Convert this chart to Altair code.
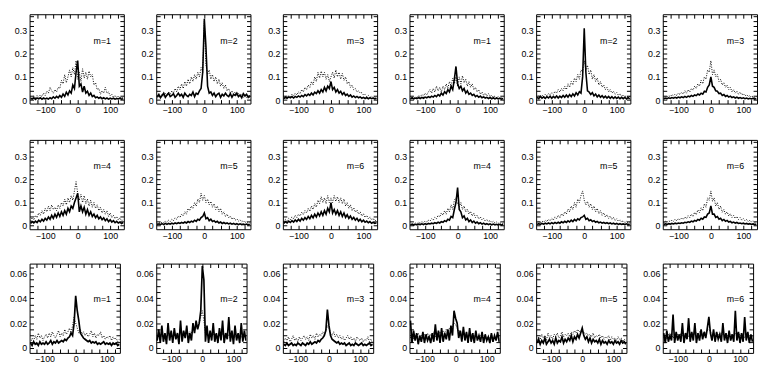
import altair as alt
import pandas as pd

# x positions (bin centres) shared by every curve
x_grid = list(range(-145, 145, 5))

# ---------------- row 1 ----------------
p1_solid = [0.008,0.004,0.01,0.003,0.009,0.005,0.01,0.004,0.009,0.005,
            0.008,0.004,0.01,0.006,0.014,0.008,0.016,0.01,0.02,0.012,
            0.026,0.016,0.034,0.022,0.04,0.03,0.065,0.05,0.12,0.17,
            0.06,0.07,0.035,0.06,0.03,0.038,0.02,0.03,0.015,0.02,
            0.01,0.014,0.008,0.012,0.006,0.01,0.005,0.009,0.004,0.008,
            0.005,0.008,0.004,0.007,0.005,0.008,0.004,0.006]
p1_dotted = [0.012,0.006,0.018,0.01,0.02,0.012,0.022,0.015,0.03,0.02,
             0.038,0.03,0.055,0.04,0.03,0.045,0.035,0.055,0.05,0.085,
             0.07,0.11,0.075,0.1,0.13,0.1,0.14,0.11,0.17,0.09,
             0.12,0.08,0.135,0.095,0.12,0.09,0.125,0.1,0.11,0.065,
             0.075,0.045,0.05,0.025,0.04,0.03,0.055,0.03,0.035,0.018,
             0.025,0.012,0.02,0.01,0.018,0.008,0.015,0.006]
p2_solid = [0.015,0.025,0.01,0.02,0.03,0.012,0.022,0.03,0.015,0.02,
            0.028,0.012,0.02,0.03,0.018,0.025,0.012,0.03,0.02,0.015,
            0.025,0.02,0.035,0.015,0.03,0.025,0.04,0.05,0.12,0.35,
            0.23,0.06,0.03,0.035,0.02,0.03,0.015,0.025,0.03,0.012,
            0.025,0.018,0.03,0.02,0.015,0.028,0.012,0.025,0.02,0.03,
            0.015,0.022,0.01,0.028,0.018,0.025,0.012,0.02]
p2_dotted = [0.008,0.018,0.012,0.025,0.015,0.03,0.02,0.035,0.025,0.04,
             0.03,0.05,0.035,0.06,0.045,0.07,0.05,0.08,0.06,0.09,
             0.07,0.1,0.08,0.11,0.09,0.12,0.1,0.14,0.12,0.34,
             0.15,0.11,0.13,0.09,0.11,0.08,0.1,0.07,0.09,0.06,
             0.075,0.05,0.065,0.04,0.05,0.03,0.04,0.025,0.035,0.02,
             0.03,0.015,0.025,0.012,0.02,0.01,0.018,0.008]
p3_solid = [0.006,0.012,0.008,0.014,0.01,0.015,0.009,0.016,0.012,0.018,
            0.013,0.02,0.015,0.024,0.018,0.026,0.02,0.03,0.022,0.034,
            0.028,0.04,0.03,0.045,0.035,0.055,0.04,0.06,0.05,0.08,
            0.045,0.055,0.035,0.045,0.03,0.038,0.024,0.032,0.02,0.026,
            0.016,0.022,0.013,0.018,0.011,0.016,0.01,0.014,0.008,0.012,
            0.007,0.011,0.006,0.01,0.006,0.009,0.005,0.008]
p3_dotted = [0.008,0.015,0.01,0.02,0.012,0.025,0.018,0.03,0.022,0.035,
             0.028,0.045,0.035,0.055,0.045,0.065,0.055,0.08,0.065,0.1,
             0.08,0.12,0.095,0.125,0.1,0.12,0.09,0.11,0.08,0.1,
             0.12,0.095,0.13,0.1,0.12,0.09,0.115,0.085,0.1,0.07,
             0.08,0.055,0.065,0.045,0.05,0.035,0.04,0.03,0.032,0.022,
             0.025,0.015,0.02,0.012,0.016,0.01,0.014,0.008]
p4_solid = [0.006,0.01,0.005,0.009,0.006,0.011,0.007,0.012,0.008,0.013,
            0.01,0.015,0.011,0.017,0.013,0.02,0.015,0.024,0.018,0.03,
            0.022,0.036,0.028,0.045,0.035,0.06,0.045,0.09,0.145,0.07,
            0.05,0.06,0.04,0.05,0.03,0.04,0.025,0.03,0.02,0.025,
            0.015,0.02,0.012,0.017,0.01,0.014,0.009,0.012,0.007,0.011,
            0.006,0.01,0.005,0.009,0.005,0.008,0.004,0.007]
p4_dotted = [0.006,0.012,0.008,0.015,0.01,0.02,0.014,0.024,0.018,0.03,
             0.022,0.035,0.045,0.03,0.05,0.035,0.06,0.04,0.055,0.035,
             0.06,0.045,0.07,0.05,0.08,0.06,0.095,0.07,0.1,0.06,
             0.1,0.07,0.105,0.075,0.09,0.06,0.08,0.055,0.07,0.045,
             0.055,0.035,0.045,0.025,0.035,0.02,0.03,0.018,0.028,0.015,
             0.022,0.012,0.018,0.01,0.015,0.008,0.012,0.006]
p5_solid = [0.012,0.006,0.016,0.008,0.014,0.007,0.015,0.009,0.017,0.008,
            0.016,0.01,0.018,0.009,0.017,0.011,0.02,0.012,0.022,0.013,
            0.024,0.015,0.027,0.018,0.032,0.022,0.036,0.03,0.1,0.31,
            0.12,0.04,0.035,0.024,0.032,0.018,0.026,0.014,0.022,0.012,
            0.019,0.01,0.017,0.009,0.016,0.008,0.015,0.007,0.014,0.007,
            0.013,0.006,0.012,0.006,0.012,0.005,0.011,0.005]
p5_dotted = [0.01,0.018,0.012,0.022,0.014,0.025,0.018,0.028,0.022,0.032,
             0.025,0.038,0.03,0.045,0.035,0.05,0.04,0.06,0.045,0.07,
             0.055,0.08,0.065,0.095,0.08,0.11,0.09,0.13,0.12,0.17,
             0.13,0.15,0.11,0.13,0.09,0.11,0.08,0.095,0.065,0.08,
             0.055,0.065,0.045,0.055,0.035,0.045,0.03,0.038,0.025,0.032,
             0.02,0.028,0.016,0.022,0.014,0.02,0.012,0.016]
p6_solid = [0.005,0.009,0.006,0.01,0.007,0.011,0.008,0.012,0.009,0.013,
            0.01,0.014,0.011,0.016,0.012,0.017,0.014,0.02,0.016,0.022,
            0.019,0.026,0.022,0.03,0.026,0.038,0.035,0.055,0.065,0.1,
            0.06,0.055,0.04,0.038,0.028,0.03,0.02,0.024,0.016,0.02,
            0.013,0.017,0.011,0.014,0.009,0.013,0.008,0.011,0.007,0.01,
            0.006,0.009,0.005,0.008,0.005,0.008,0.004,0.007]
p6_dotted = [0.01,0.016,0.012,0.02,0.014,0.024,0.018,0.026,0.02,0.03,
             0.024,0.034,0.026,0.04,0.03,0.045,0.035,0.05,0.042,0.06,
             0.05,0.07,0.06,0.085,0.07,0.1,0.09,0.13,0.12,0.17,
             0.11,0.13,0.1,0.11,0.08,0.09,0.065,0.075,0.055,0.065,
             0.045,0.055,0.035,0.045,0.03,0.038,0.025,0.034,0.022,0.028,
             0.018,0.024,0.015,0.02,0.012,0.018,0.01,0.014]

# ---------------- row 2 ----------------
p7_solid = [0.01,0.018,0.012,0.02,0.014,0.024,0.017,0.028,0.02,0.032,
            0.024,0.038,0.028,0.045,0.032,0.05,0.036,0.055,0.04,0.06,
            0.045,0.065,0.05,0.075,0.06,0.085,0.075,0.1,0.12,0.14,
            0.06,0.085,0.06,0.08,0.05,0.07,0.045,0.06,0.04,0.05,
            0.035,0.045,0.03,0.038,0.026,0.034,0.022,0.03,0.018,0.026,
            0.016,0.022,0.013,0.019,0.012,0.016,0.01,0.014]
p7_dotted = [0.02,0.035,0.025,0.045,0.035,0.055,0.045,0.065,0.05,0.075,
             0.06,0.085,0.065,0.09,0.07,0.08,0.065,0.09,0.075,0.1,
             0.085,0.115,0.09,0.12,0.1,0.13,0.11,0.15,0.19,0.14,
             0.11,0.135,0.1,0.13,0.095,0.115,0.085,0.11,0.08,0.1,
             0.075,0.09,0.065,0.08,0.055,0.07,0.05,0.065,0.04,0.055,
             0.035,0.045,0.03,0.04,0.025,0.035,0.02,0.028]
p8_solid = [0.004,0.008,0.005,0.009,0.005,0.01,0.006,0.01,0.007,0.011,
            0.008,0.012,0.009,0.013,0.01,0.014,0.011,0.016,0.012,0.018,
            0.014,0.02,0.016,0.024,0.019,0.028,0.024,0.035,0.04,0.055,
            0.03,0.035,0.022,0.028,0.018,0.022,0.015,0.019,0.012,0.016,
            0.01,0.014,0.009,0.012,0.008,0.011,0.007,0.01,0.006,0.009,
            0.005,0.008,0.005,0.007,0.004,0.007,0.004,0.006]
p8_dotted = [0.008,0.014,0.01,0.016,0.012,0.02,0.015,0.024,0.018,0.028,
             0.022,0.034,0.028,0.042,0.035,0.05,0.042,0.06,0.05,0.075,
             0.065,0.085,0.075,0.1,0.085,0.115,0.1,0.14,0.11,0.13,
             0.1,0.115,0.09,0.105,0.08,0.095,0.07,0.085,0.06,0.075,
             0.05,0.06,0.04,0.05,0.034,0.042,0.028,0.036,0.024,0.03,
             0.02,0.026,0.017,0.022,0.014,0.018,0.012,0.015]
p9_solid = [0.01,0.018,0.012,0.02,0.014,0.022,0.016,0.025,0.018,0.028,
            0.02,0.032,0.024,0.035,0.027,0.04,0.03,0.045,0.034,0.05,
            0.038,0.055,0.042,0.06,0.045,0.065,0.05,0.075,0.06,0.1,
            0.055,0.07,0.05,0.065,0.045,0.06,0.04,0.055,0.036,0.048,
            0.032,0.042,0.028,0.036,0.024,0.032,0.02,0.028,0.017,0.024,
            0.015,0.02,0.013,0.018,0.011,0.015,0.01,0.013]
p9_dotted = [0.018,0.028,0.022,0.032,0.026,0.038,0.03,0.045,0.035,0.05,
             0.042,0.058,0.048,0.065,0.055,0.075,0.062,0.085,0.07,0.095,
             0.08,0.11,0.095,0.125,0.1,0.12,0.095,0.13,0.1,0.12,
             0.1,0.13,0.105,0.125,0.1,0.12,0.095,0.115,0.085,0.1,
             0.075,0.09,0.065,0.078,0.058,0.068,0.05,0.06,0.042,0.052,
             0.036,0.045,0.03,0.038,0.025,0.032,0.02,0.026]
p10_solid = [0.004,0.006,0.003,0.006,0.004,0.007,0.005,0.008,0.005,0.009,
             0.006,0.01,0.008,0.011,0.009,0.013,0.01,0.015,0.012,0.018,
             0.015,0.022,0.018,0.028,0.024,0.04,0.035,0.07,0.1,0.165,
             0.07,0.06,0.035,0.042,0.025,0.032,0.018,0.025,0.014,0.02,
             0.011,0.016,0.009,0.013,0.007,0.011,0.006,0.009,0.005,0.008,
             0.004,0.007,0.004,0.006,0.003,0.006,0.003,0.005]
p10_dotted = [0.005,0.01,0.007,0.012,0.009,0.015,0.011,0.018,0.013,0.02,
              0.016,0.024,0.02,0.03,0.024,0.036,0.03,0.045,0.038,0.055,
              0.045,0.065,0.05,0.075,0.06,0.09,0.07,0.11,0.12,0.095,
              0.08,0.1,0.07,0.085,0.06,0.072,0.05,0.062,0.042,0.055,
              0.035,0.045,0.03,0.038,0.025,0.032,0.02,0.027,0.017,0.023,
              0.014,0.019,0.012,0.016,0.01,0.014,0.008,0.012]
p11_solid = [0.005,0.009,0.006,0.01,0.007,0.011,0.008,0.012,0.008,0.013,
             0.009,0.014,0.01,0.015,0.011,0.017,0.013,0.019,0.014,0.021,
             0.016,0.024,0.018,0.027,0.021,0.03,0.025,0.035,0.038,0.045,
             0.028,0.032,0.022,0.026,0.018,0.022,0.015,0.019,0.013,0.016,
             0.011,0.014,0.01,0.013,0.009,0.012,0.008,0.011,0.007,0.01,
             0.006,0.009,0.006,0.008,0.005,0.008,0.005,0.007]
p11_dotted = [0.01,0.018,0.012,0.02,0.015,0.024,0.018,0.028,0.021,0.032,
              0.025,0.038,0.03,0.045,0.035,0.052,0.042,0.06,0.05,0.072,
              0.06,0.085,0.07,0.1,0.08,0.115,0.1,0.13,0.15,0.11,
              0.09,0.105,0.08,0.095,0.07,0.085,0.06,0.075,0.052,0.065,
              0.045,0.056,0.038,0.048,0.032,0.042,0.027,0.036,0.023,0.03,
              0.019,0.026,0.016,0.022,0.013,0.019,0.011,0.016]
p12_solid = [0.005,0.008,0.006,0.009,0.007,0.01,0.008,0.011,0.009,0.012,
             0.01,0.013,0.011,0.015,0.013,0.017,0.015,0.02,0.017,0.023,
             0.02,0.027,0.024,0.032,0.028,0.038,0.036,0.05,0.055,0.085,
             0.05,0.05,0.036,0.04,0.028,0.032,0.022,0.027,0.019,0.023,
             0.016,0.019,0.013,0.016,0.011,0.014,0.01,0.012,0.009,0.011,
             0.008,0.01,0.007,0.009,0.006,0.008,0.005,0.007]
p12_dotted = [0.013,0.02,0.015,0.022,0.017,0.025,0.019,0.028,0.021,0.031,
              0.024,0.034,0.027,0.038,0.03,0.043,0.035,0.05,0.04,0.058,
              0.048,0.068,0.056,0.078,0.065,0.095,0.08,0.12,0.11,0.15,
              0.105,0.12,0.085,0.1,0.07,0.085,0.058,0.07,0.05,0.06,
              0.042,0.052,0.036,0.045,0.031,0.04,0.027,0.035,0.024,0.031,
              0.021,0.027,0.018,0.024,0.016,0.021,0.014,0.018]

# ---------------- row 3 ----------------
p13_solid = [0.004,0.002,0.005,0.003,0.004,0.002,0.005,0.003,0.004,0.003,
             0.005,0.003,0.004,0.006,0.003,0.005,0.004,0.006,0.004,0.005,
             0.006,0.005,0.007,0.006,0.008,0.009,0.012,0.01,0.02,0.042,
             0.03,0.022,0.012,0.01,0.008,0.007,0.006,0.005,0.006,0.004,
             0.005,0.004,0.005,0.003,0.004,0.003,0.004,0.005,0.003,0.004,
             0.003,0.004,0.002,0.004,0.003,0.004,0.002,0.003]
p13_dotted = [0.004,0.008,0.006,0.01,0.007,0.012,0.008,0.01,0.006,0.009,
              0.011,0.008,0.012,0.009,0.013,0.01,0.008,0.011,0.014,0.009,
              0.012,0.01,0.015,0.011,0.013,0.016,0.012,0.018,0.025,0.02,
              0.016,0.012,0.015,0.011,0.013,0.01,0.012,0.009,0.011,0.014,
              0.009,0.012,0.008,0.011,0.01,0.013,0.008,0.01,0.007,0.009,
              0.008,0.01,0.006,0.009,0.007,0.008,0.005,0.007]
p14_solid = [0.006,0.015,0.004,0.018,0.005,0.012,0.003,0.02,0.006,0.014,
             0.004,0.016,0.007,0.012,0.003,0.022,0.005,0.014,0.008,0.018,
             0.004,0.012,0.006,0.02,0.012,0.022,0.015,0.02,0.03,0.066,
             0.055,0.005,0.018,0.004,0.014,0.006,0.02,0.005,0.012,0.004,
             0.016,0.006,0.022,0.004,0.012,0.007,0.025,0.005,0.014,0.003,
             0.018,0.006,0.012,0.004,0.02,0.005,0.014,0.006]
p14_dotted = [0.008,0.01,0.007,0.011,0.009,0.01,0.008,0.012,0.009,0.011,
              0.008,0.012,0.01,0.009,0.011,0.013,0.009,0.012,0.01,0.014,
              0.011,0.013,0.012,0.015,0.014,0.016,0.018,0.02,0.025,0.03,
              0.022,0.012,0.013,0.01,0.012,0.009,0.011,0.01,0.012,0.008,
              0.011,0.009,0.012,0.008,0.01,0.009,0.011,0.008,0.01,0.007,
              0.01,0.008,0.011,0.007,0.009,0.008,0.01,0.007]
p15_solid = [0.003,0.002,0.004,0.002,0.003,0.004,0.002,0.003,0.002,0.004,
             0.003,0.002,0.004,0.003,0.002,0.004,0.003,0.005,0.003,0.004,
             0.005,0.004,0.006,0.005,0.007,0.008,0.01,0.014,0.031,0.018,
             0.01,0.007,0.006,0.005,0.004,0.005,0.003,0.004,0.003,0.004,
             0.002,0.003,0.004,0.002,0.003,0.002,0.004,0.003,0.002,0.003,
             0.004,0.002,0.003,0.002,0.003,0.004,0.002,0.003]
p15_dotted = [0.005,0.008,0.006,0.009,0.005,0.007,0.01,0.006,0.008,0.005,
              0.009,0.006,0.008,0.01,0.007,0.009,0.006,0.011,0.008,0.01,
              0.007,0.012,0.009,0.011,0.01,0.013,0.011,0.014,0.018,0.016,
              0.012,0.01,0.013,0.009,0.011,0.008,0.01,0.007,0.009,0.006,
              0.008,0.01,0.007,0.009,0.006,0.008,0.005,0.009,0.007,0.006,
              0.008,0.005,0.007,0.006,0.009,0.005,0.007,0.004]
p16_solid = [0.022,0.004,0.014,0.006,0.012,0.003,0.01,0.005,0.013,0.004,
             0.011,0.006,0.009,0.004,0.012,0.005,0.019,0.006,0.014,0.004,
             0.016,0.005,0.012,0.007,0.015,0.006,0.018,0.01,0.03,0.024,
             0.02,0.008,0.014,0.005,0.017,0.006,0.013,0.004,0.016,0.005,
             0.012,0.004,0.014,0.006,0.01,0.005,0.013,0.004,0.011,0.006,
             0.009,0.004,0.012,0.005,0.01,0.006,0.013,0.005]
p16_dotted = [0.008,0.011,0.007,0.01,0.009,0.012,0.008,0.01,0.007,0.011,
              0.009,0.012,0.008,0.011,0.01,0.013,0.009,0.012,0.011,0.013,
              0.01,0.014,0.012,0.015,0.013,0.016,0.014,0.018,0.02,0.019,
              0.016,0.013,0.014,0.011,0.013,0.01,0.012,0.009,0.011,0.01,
              0.012,0.009,0.011,0.008,0.01,0.009,0.012,0.008,0.01,0.007,
              0.009,0.008,0.011,0.007,0.009,0.008,0.01,0.007]
p17_solid = [0.004,0.007,0.003,0.006,0.004,0.008,0.003,0.005,0.007,0.004,
             0.006,0.003,0.008,0.004,0.006,0.005,0.009,0.004,0.007,0.005,
             0.008,0.006,0.01,0.005,0.009,0.007,0.011,0.008,0.012,0.016,
             0.01,0.007,0.009,0.005,0.008,0.004,0.007,0.005,0.006,0.004,
             0.007,0.003,0.006,0.004,0.005,0.003,0.006,0.004,0.005,0.003,
             0.006,0.004,0.005,0.003,0.006,0.004,0.005,0.003]
p17_dotted = [0.006,0.009,0.007,0.011,0.008,0.01,0.006,0.012,0.008,0.01,
              0.007,0.011,0.009,0.012,0.008,0.01,0.013,0.009,0.011,0.01,
              0.012,0.009,0.013,0.011,0.014,0.012,0.015,0.013,0.014,0.012,
              0.013,0.011,0.012,0.01,0.011,0.009,0.012,0.008,0.01,0.009,
              0.011,0.008,0.01,0.007,0.009,0.008,0.01,0.006,0.009,0.007,
              0.008,0.006,0.009,0.007,0.008,0.005,0.007,0.006]
p18_solid = [0.012,0.004,0.014,0.005,0.01,0.006,0.027,0.004,0.013,0.006,
             0.011,0.005,0.02,0.004,0.012,0.007,0.024,0.005,0.013,0.006,
             0.02,0.004,0.012,0.006,0.015,0.007,0.013,0.008,0.016,0.025,
             0.012,0.006,0.015,0.005,0.013,0.007,0.011,0.005,0.02,0.006,
             0.012,0.004,0.014,0.006,0.011,0.005,0.03,0.006,0.013,0.004,
             0.012,0.005,0.025,0.006,0.013,0.004,0.011,0.005]
p18_dotted = [0.008,0.01,0.007,0.011,0.009,0.012,0.008,0.01,0.009,0.011,
              0.008,0.012,0.01,0.009,0.011,0.012,0.009,0.011,0.01,0.012,
              0.011,0.012,0.01,0.013,0.012,0.011,0.013,0.012,0.014,0.015,
              0.013,0.011,0.012,0.01,0.012,0.011,0.01,0.012,0.011,0.009,
              0.011,0.01,0.012,0.009,0.011,0.01,0.012,0.009,0.01,0.011,
              0.009,0.01,0.008,0.011,0.009,0.01,0.008,0.009]

panel_labels = ["m=1", "m=2", "m=3", "m=1", "m=2", "m=3",
                "m=4", "m=5", "m=6", "m=4", "m=5", "m=6",
                "m=1", "m=2", "m=3", "m=4", "m=5", "m=6"]
solid_series = [p1_solid, p2_solid, p3_solid, p4_solid, p5_solid, p6_solid,
                p7_solid, p8_solid, p9_solid, p10_solid, p11_solid, p12_solid,
                p13_solid, p14_solid, p15_solid, p16_solid, p17_solid, p18_solid]
dotted_series = [p1_dotted, p2_dotted, p3_dotted, p4_dotted, p5_dotted, p6_dotted,
                 p7_dotted, p8_dotted, p9_dotted, p10_dotted, p11_dotted, p12_dotted,
                 p13_dotted, p14_dotted, p15_dotted, p16_dotted, p17_dotted, p18_dotted]

x_ticks = [-125, -100, -75, -50, -25, 0, 25, 50, 75, 100, 125]
y_ticks_big = [0, 0.02, 0.04, 0.06, 0.08, 0.1, 0.12, 0.14, 0.16, 0.18, 0.2,
               0.22, 0.24, 0.26, 0.28, 0.3, 0.32, 0.34, 0.36]
y_ticks_small = [0, 0.005, 0.01, 0.015, 0.02, 0.025, 0.03, 0.035, 0.04,
                 0.045, 0.05, 0.055, 0.06, 0.065]

rows = []
for i in range(18):
    for xv, s, d in zip(x_grid, solid_series[i], dotted_series[i]):
        rows.append({"panel": i, "series": "solid", "x": xv, "y": s})
        rows.append({"panel": i, "series": "dotted", "x": xv, "y": d})
df = pd.DataFrame(rows)

FONT = "Liberation Sans"
FS = 9
TS = 4
H = 91

xscale = alt.Scale(domain=[-148, 142], nice=False, zero=False)


def make_panel(i):
    small = i >= 12
    W = 92 if small else 96
    ext = 21 if small else 16
    yscale = alt.Scale(domain=[-0.004, 0.068] if small else [-0.015, 0.37],
                       nice=False, zero=False)
    yt = y_ticks_small if small else y_ticks_big
    if small:
        ylab = ("abs(datum.value*50 - round(datum.value*50)) < 1e-6 ? "
                "(datum.value == 0 ? '0' : format(datum.value, '.2f')) : ''")
    else:
        ylab = ("abs(datum.value*10 - round(datum.value*10)) < 1e-6 ? "
                "(datum.value == 0 ? '0' : format(datum.value, '.1f')) : ''")
    xax = alt.Axis(values=x_ticks, orient="bottom", offset=-TS, tickSize=TS,
                   domain=False, grid=False, title=None, labelPadding=2,
                   labelOverlap=False, labelFlush=False,
                   minExtent=13, maxExtent=13,
                   labelExpr="datum.value % 100 == 0 ? datum.label : ''")
    yax = alt.Axis(values=yt, orient="left", offset=-TS, tickSize=TS,
                   domain=False, grid=False, title=None, labelPadding=3,
                   labelOverlap=False, minExtent=ext, maxExtent=ext,
                   labelExpr=ylab)
    xax2 = alt.Axis(values=x_ticks, orient="top", offset=-TS, tickSize=TS,
                    domain=False, grid=False, title=None, labels=False,
                    minExtent=0, maxExtent=0)
    yax2 = alt.Axis(values=yt, orient="right", offset=-TS, tickSize=TS,
                    domain=False, grid=False, title=None, labels=False,
                    minExtent=0, maxExtent=0)

    base = alt.Chart(df).transform_filter(alt.datum.panel == i)
    dotted = base.transform_filter(alt.datum.series == "dotted").mark_line(
        color="black", strokeWidth=1, strokeDash=[1, 1.5], clip=True
    ).encode(x=alt.X("x:Q", scale=xscale, axis=xax),
             y=alt.Y("y:Q", scale=yscale, axis=yax))
    solid = base.transform_filter(alt.datum.series == "solid").mark_line(
        color="black", strokeWidth=1.7 if small else 1.6, clip=True
    ).encode(x=alt.X("x:Q", scale=xscale, axis=None),
             y=alt.Y("y:Q", scale=yscale, axis=None))
    mirror = base.transform_filter(alt.datum.series == "solid").mark_line(
        opacity=0
    ).encode(x=alt.X("x:Q", scale=xscale, axis=xax2),
             y=alt.Y("y:Q", scale=yscale, axis=yax2))
    label = alt.Chart(alt.Data(values=[{"label": panel_labels[i]}])).mark_text(
        font=FONT, fontSize=FS, color="black", align="center", baseline="middle"
    ).encode(text="label:N", x=alt.value(74), y=alt.value(36 if small else 27))
    return alt.layer(dotted, solid, mirror, label).resolve_axis(
        x="independent", y="independent").properties(width=W, height=H)


row_charts = []
for r in range(3):
    row_charts.append(alt.hconcat(*[make_panel(r * 6 + c) for c in range(6)],
                                  spacing=14 if r == 2 else 15))

chart = alt.vconcat(*row_charts, spacing=22).properties(padding=0).configure_view(
    stroke="black", strokeWidth=1
).configure_axis(
    labelFont=FONT, labelFontSize=FS, labelColor="black",
    tickColor="black", tickWidth=1
)

chart.save("out.html", embed_options={"renderer": "svg", "actions": False})
